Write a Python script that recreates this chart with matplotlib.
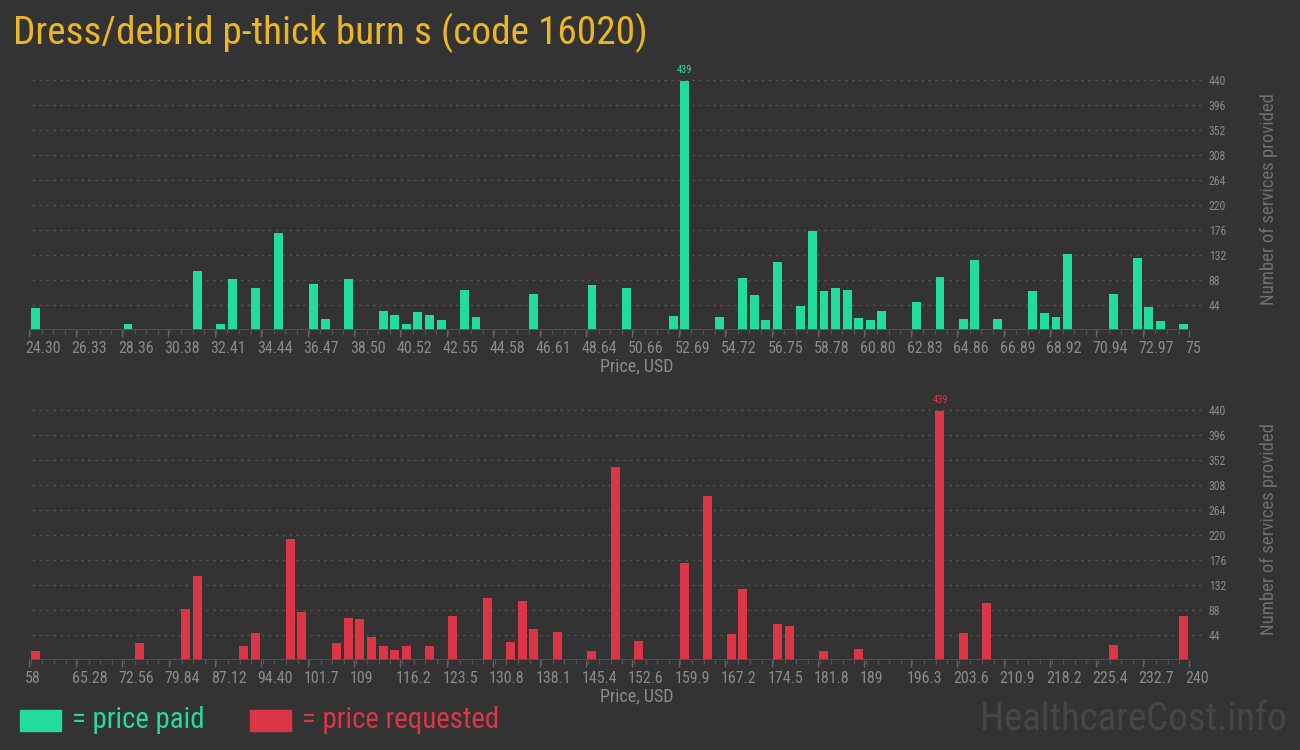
import matplotlib
matplotlib.use("Agg")
import matplotlib.pyplot as plt
from matplotlib import font_manager
from matplotlib.font_manager import FontProperties
from matplotlib.ticker import FixedLocator, MultipleLocator
from matplotlib.transforms import ScaledTranslation
from matplotlib.patches import Rectangle

# ---------------- data ----------------
title = "Dress/debrid p-thick burn s (code 16020)"

paid_bin_low = [24.30, 28.36, 31.40, 32.41, 32.92, 33.93, 34.95, 36.47, 36.98, 37.99,
                39.51, 40.02, 40.52, 41.03, 41.54, 42.05, 43.06, 43.57, 46.10, 48.64,
                50.16, 52.19, 52.69, 54.21, 55.23, 55.73, 56.24, 56.75, 57.76, 58.27,
                58.78, 59.28, 59.79, 60.30, 60.80, 61.31, 62.83, 63.85, 64.86, 65.37,
                66.38, 67.90, 68.41, 68.92, 69.42, 71.45, 72.47, 72.97, 73.48, 74.49]
paid_counts = [39, 11, 104, 11, 90, 74, 171, 81, 19, 90,
               33, 26, 11, 32, 26, 18, 70, 23, 63, 79,
               74, 25, 439, 23, 92, 62, 18, 120, 42, 174,
               69, 74, 70, 21, 18, 33, 49, 93, 19, 123,
               19, 69, 30, 23, 134, 63, 127, 40, 16, 11]
paid_bin_width = 0.507
paid_ticks = ["24.30", "26.33", "28.36", "30.38", "32.41", "34.44", "36.47", "38.50",
              "40.52", "42.55", "44.58", "46.61", "48.64", "50.66", "52.69", "54.72",
              "56.75", "58.78", "60.80", "62.83", "64.86", "66.89", "68.92", "70.94",
              "72.97", "75"]

req_bin_low = [58.00, 74.38, 81.66, 83.48, 90.76, 92.58, 98.04, 99.86, 105.32, 107.14,
               108.96, 110.78, 112.60, 114.42, 116.24, 119.88, 123.52, 128.98, 132.62, 134.44,
               136.26, 139.90, 145.36, 149.00, 152.64, 159.92, 163.56, 167.20, 169.02, 174.48,
               176.30, 181.76, 187.22, 199.96, 203.60, 207.24, 227.26, 238.18]
req_counts = [16, 30, 90, 148, 25, 48, 213, 84, 30, 74,
              72, 40, 25, 18, 25, 25, 77, 109, 32, 104,
              55, 49, 16, 340, 33, 171, 289, 46, 125, 63,
              60, 16, 19, 439, 48, 100, 26, 77]
req_bin_width = 1.82
req_ticks = ["58", "65.28", "72.56", "79.84", "87.12", "94.40", "101.7", "109", "116.2",
             "123.5", "130.8", "138.1", "145.4", "152.6", "159.9", "167.2", "174.5",
             "181.8", "189", "196.3", "203.6", "210.9", "218.2", "225.4", "232.7", "240"]

y_ticks = [44, 88, 132, 176, 220, 264, 308, 352, 396, 440]

# ---------------- style ----------------
BG = "#333333"
GREEN = "#22dc9b"
RED = "#dc3545"
GOLD = "#ebb523"
TICK = "#8a8a8a"
GRID = "#4f4f4f"


def _stretch_val(s):
    if isinstance(s, (int, float)):
        return s
    table = {"ultra-condensed": 100, "extra-condensed": 200, "condensed": 300,
             "semi-condensed": 400, "normal": 500}
    return table.get(str(s).lower(), 500)


def find_condensed():
    prefs = ["Roboto Condensed", "Liberation Sans Narrow", "Open Sans Condensed",
             "Noto Sans Condensed", "DejaVu Sans Condensed", "Roboto", "Noto Sans",
             "Open Sans", "DejaVu Sans"]
    best = None
    for f in font_manager.fontManager.ttflist:
        if f.style != "normal":
            continue
        w = f.weight if isinstance(f.weight, int) else 400
        if not (350 <= w <= 450):
            continue
        narrow = ("Condensed" in f.name or "Narrow" in f.name
                  or _stretch_val(f.stretch) < 500
                  or "Condensed" in f.fname or "Narrow" in f.fname)
        if not narrow:
            continue
        rank = prefs.index(f.name) if f.name in prefs else len(prefs)
        if best is None or rank < best[0]:
            best = (rank, f.fname)
    return best[1] if best else None


COND_FILE = find_condensed()
plt.rcParams["font.family"] = ["Roboto", "DejaVu Sans"]


def fp(size):
    if COND_FILE:
        return FontProperties(fname=COND_FILE, size=size)
    return FontProperties(family=["Roboto", "DejaVu Sans"], size=size * 0.86)


fig = plt.figure(figsize=(13, 7.5), dpi=100, facecolor=BG)


def panel(rect, lows, counts, width, ticks, color, xmin, xmax):
    ax = fig.add_axes(rect)
    ax.set_facecolor(BG)
    centers = [v + width / 2 for v in lows]
    ax.bar(centers, counts, width=width * 0.76, color=color, zorder=3)
    ax.set_xlim(xmin, xmax)
    ax.set_ylim(0, 460)
    for s in ax.spines.values():
        s.set_visible(False)
    ax.axhline(0, color="#555555", lw=1.2, zorder=4)
    ax.hlines(y_ticks, 0.002, 1.013, transform=ax.get_yaxis_transform(),
              colors=GRID, linestyles=(0, (2, 3)), lw=1, clip_on=False, zorder=1)
    ax.yaxis.tick_right()
    ax.set_yticks(y_ticks)
    ax.set_yticklabels([str(t) for t in y_ticks])
    ax.tick_params(axis="y", length=0, pad=14, labelcolor=TICK)
    for lab in ax.get_yticklabels():
        lab.set_fontproperties(fp(8.5))
    ax.yaxis.set_label_position("right")
    ax.set_ylabel("Number of services provided", color="#6f6f6f",
                  fontproperties=fp(13.5), labelpad=24)
    pos = [float(t) for t in ticks]
    ax.xaxis.set_major_locator(FixedLocator(pos))
    ax.xaxis.set_minor_locator(MultipleLocator(width))
    ax.set_xticklabels(ticks)
    ax.tick_params(axis="x", which="major", length=5, width=1, color="#666666",
                   labelcolor=TICK, pad=3)
    ax.tick_params(axis="x", which="minor", length=3, width=1, color="#555555")
    off = ScaledTranslation(-3 / 72, 0, fig.dpi_scale_trans)
    for lab in ax.get_xticklabels():
        lab.set_fontproperties(fp(11.5))
        lab.set_horizontalalignment("left")
        lab.set_transform(lab.get_transform() + off)
    ax.set_xlabel("Price, USD", color=TICK, fontproperties=fp(13))
    ax.xaxis.set_label_coords(0.5235, -0.105)
    m = max(counts)
    i = counts.index(m)
    ax.annotate(str(m), (centers[i], m), xytext=(0, 4), textcoords="offset points",
                ha="center", va="bottom", color=color, fontproperties=fp(7.5))
    return ax


panel([29.3 / 1300, 0.56, 1160 / 1300, 0.3484], paid_bin_low, paid_counts,
      paid_bin_width, paid_ticks, GREEN, 24.30, 75.0)
panel([29.3 / 1300, 0.12, 1160 / 1300, 0.3484], req_bin_low, req_counts,
      req_bin_width, req_ticks, RED, 58.0, 240.0)

fig.text(13 / 1300, 1 - 33 / 750, title, color=GOLD, fontproperties=fp(28.3),
         ha="left", va="center")

fig.add_artist(Rectangle((20 / 1300, 1 - 731 / 750), 41 / 1300, 21 / 750,
                         transform=fig.transFigure, color=GREEN))
fig.text(72 / 1300, 1 - 720 / 750, "= price paid", color=GREEN, fontproperties=fp(20.7),
         ha="left", va="center")
fig.add_artist(Rectangle((250 / 1300, 1 - 731 / 750), 41 / 1300, 21 / 750,
                         transform=fig.transFigure, color=RED))
fig.text(302 / 1300, 1 - 720 / 750, "= price requested", color=RED, fontproperties=fp(20.7),
         ha="left", va="center")

fig.text(1287 / 1300, 1 - 720 / 750, "HealthcareCost.info", color="#464646",
         fontproperties=fp(28), ha="right", va="center")

fig.savefig("out.png", dpi=100, facecolor=BG)
